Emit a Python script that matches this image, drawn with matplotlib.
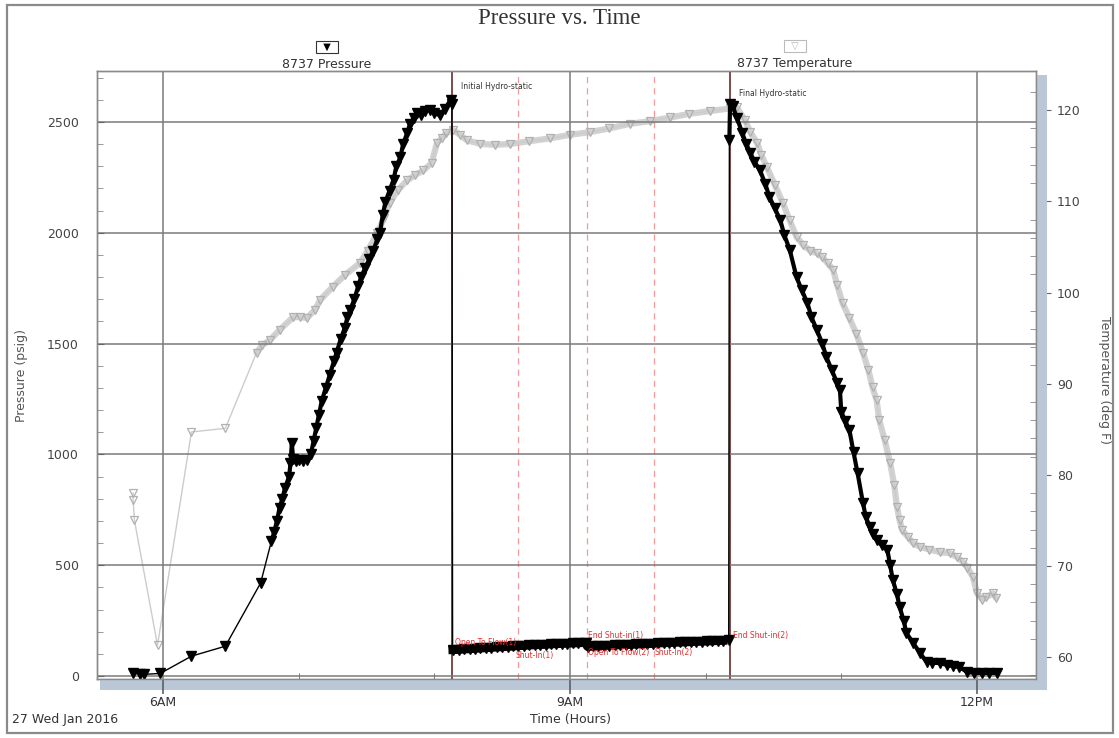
import numpy as np
import matplotlib.pyplot as plt
from matplotlib.patches import Rectangle

# Gauge 8737 - pressure (psig) vs time (decimal hours, 27 Jan 2016)
p_time = [5.78, 5.83, 5.86, 5.98, 6.21, 6.46, 6.72, 6.80, 6.82, 6.84, 6.86, 6.88, 6.90,
          6.93, 6.94, 6.95, 6.96, 6.98, 7.00, 7.03, 7.06, 7.09, 7.11, 7.13, 7.15, 7.17,
          7.20, 7.23, 7.26, 7.28, 7.31, 7.34, 7.36, 7.38, 7.41, 7.44, 7.46, 7.49, 7.52,
          7.55, 7.58, 7.60, 7.62, 7.64, 7.67, 7.70, 7.72, 7.75, 7.77, 7.80, 7.82, 7.85,
          7.87, 7.90, 7.93, 7.97, 8.00, 8.04, 8.08, 8.12, 8.13,
          8.135, 8.18, 8.22, 8.26, 8.30, 8.34, 8.38, 8.42, 8.46, 8.50, 8.54, 8.58, 8.62,
          8.66, 8.70, 8.74, 8.78, 8.82, 8.86, 8.90, 8.94, 8.98, 9.02, 9.06, 9.10, 9.12,
          9.13, 9.17, 9.21, 9.25, 9.29, 9.33, 9.37, 9.41, 9.45, 9.49, 9.53, 9.57, 9.61,
          9.65, 9.69, 9.73, 9.77, 9.81, 9.85, 9.89, 9.93, 9.97, 10.01, 10.05, 10.09,
          10.13, 10.17,
          10.175, 10.18, 10.20, 10.23, 10.27, 10.30, 10.33, 10.36, 10.40, 10.44, 10.47,
          10.51, 10.55, 10.58, 10.62, 10.67, 10.71, 10.75, 10.78, 10.82, 10.86, 10.89,
          10.93, 10.97, 10.99, 11.00, 11.03, 11.06, 11.09, 11.12, 11.16, 11.18, 11.21,
          11.23, 11.26, 11.30, 11.34, 11.36, 11.38, 11.41, 11.43, 11.46, 11.48, 11.53,
          11.58, 11.63, 11.67, 11.73, 11.78, 11.82, 11.87, 11.93, 11.98, 12.04, 12.09,
          12.15]
p_val = [12, 10, 8, 12, 90, 135, 420, 610, 650, 700, 760, 800, 850,
         900, 960, 1050, 980, 970, 975, 970, 975, 1000, 1060, 1120, 1180, 1240,
         1300, 1360, 1420, 1460, 1520, 1570, 1620, 1650, 1700, 1760, 1800, 1840, 1880,
         1920, 1970, 2000, 2080, 2140, 2190, 2240, 2300, 2340, 2400, 2450, 2490, 2520,
         2540, 2530, 2550, 2555, 2540, 2530, 2560, 2600, 2580,
         118, 119, 121, 122, 124, 125, 127, 128, 130, 131, 133, 134, 136,
         137, 139, 140, 141, 142, 144, 145, 146, 147, 148, 149, 150, 151,
         132, 134, 135, 137, 138, 139, 140, 141, 142, 143, 144, 145, 146,
         148, 149, 150, 151, 152, 153, 154, 155, 156, 157, 158, 159,
         160, 162,
         2420, 2580, 2570, 2520, 2450, 2400, 2360, 2320, 2283, 2220, 2162,
         2110, 2058, 1990, 1923, 1800, 1740, 1683, 1620, 1561, 1500, 1440,
         1380, 1322, 1290, 1192, 1150, 1110, 1010, 916, 780, 720, 672,
         640, 614, 590, 569, 500, 433, 370, 311, 250, 194, 149,
         104, 63, 60, 59, 50, 45, 41, 18, 15, 14, 14,
         14]

# Gauge 8737 - temperature (deg F)
t_time = [5.78, 5.78, 5.79, 5.96, 6.21, 6.46, 6.69, 6.73, 6.79, 6.86, 6.96, 7.01, 7.06,
          7.12, 7.16, 7.25, 7.34, 7.45, 7.51, 7.58, 7.63, 7.67, 7.73, 7.80, 7.86, 7.92,
          7.98, 8.02, 8.06, 8.09, 8.14, 8.19, 8.24, 8.34, 8.45, 8.56, 8.70, 8.85, 9.00,
          9.15, 9.29, 9.44, 9.59, 9.74, 9.88, 10.03, 10.18, 10.23, 10.29, 10.33, 10.38,
          10.41, 10.45, 10.51, 10.57, 10.62, 10.67, 10.72, 10.77, 10.82, 10.86, 10.90,
          10.94, 10.97, 11.01, 11.06, 11.11, 11.16, 11.20, 11.23, 11.26, 11.28, 11.32,
          11.36, 11.39, 11.41, 11.43, 11.45, 11.49, 11.53, 11.58, 11.65, 11.73, 11.80,
          11.85, 11.90, 11.93, 11.97, 12.00, 12.04, 12.07, 12.12, 12.14]
t_val = [78.0, 77.2, 75.0, 61.3, 84.7, 85.1, 93.4, 94.2, 94.8, 95.9, 97.3, 97.3, 97.2,
         98.1, 99.2, 100.6, 101.9, 103.2, 104.6, 106.5, 108.2, 109.8, 111.2, 112.3, 112.9, 113.4,
         114.2, 116.4, 117.0, 117.5, 117.8, 117.3, 116.7, 116.3, 116.2, 116.3, 116.6, 116.9, 117.3,
         117.6, 118.0, 118.5, 118.8, 119.2, 119.6, 119.9, 120.2, 120.3, 118.9, 117.6, 116.4,
         115.1, 113.8, 111.8, 109.8, 107.9, 106.1, 105.2, 104.6, 104.3, 103.9, 103.2,
         102.5, 100.8, 98.8, 97.2, 95.5, 93.4, 91.5, 89.6, 88.2, 86.0, 83.8,
         81.3, 78.9, 76.5, 75.0, 73.9, 73.2, 72.5, 72.1, 71.8, 71.5, 71.4,
         71.0, 70.4, 69.8, 68.8, 67.0, 66.3, 66.6, 67.0, 66.5]

# event markers
hydro_times = [8.13, 10.178]
hydro_labels = ['Initial Hydro-static', 'Final Hydro-static']
dash_times = [8.616, 9.125, 9.618]
event_labels = ['Open To Flow(1)', 'Shut-In(1)', 'End Shut-in(1)',
                'Open To Flow(2)', 'Shut-In(2)', 'End Shut-in(2)']
event_x = [8.15, 8.60, 9.13, 9.13, 9.62, 10.20]
event_y = [150, 92, 185, 108, 108, 182]

fig = plt.figure(figsize=(11.19, 7.38), dpi=100)
fig.patch.set_facecolor('white')

# outer frame and 3d-ish shadow band
fig.patches.append(Rectangle((7/1119, 5/738), 1106/1119, 728/738, transform=fig.transFigure,
                             fill=False, edgecolor='#8a8a8a', lw=1.6, zorder=0))
band = '#b9c7d6'
fig.patches.append(Rectangle((100/1119, 1 - 690/738), 947/1119, 11/738, transform=fig.transFigure,
                             facecolor=band, edgecolor='none', zorder=0))
fig.patches.append(Rectangle((1036/1119, 1 - 690/738), 11/1119, 615/738, transform=fig.transFigure,
                             facecolor=band, edgecolor='none', zorder=0))

ax = fig.add_axes([97/1119, 1 - 679/738, 939/1119, 608/738])
ax2 = ax.twinx()
ax.set_zorder(ax2.get_zorder() + 1)
ax.patch.set_visible(False)

# temperature (light grey, hollow triangles); the densely logged part is a thick band
ax2.plot(t_time[6:], t_val[6:], color='#d2d2d2', lw=4.5, solid_capstyle='round')
ax2.plot(t_time, t_val, color='#cccccc', lw=1.0, marker='v', ms=6,
         mfc='none', mec='#b0b0b0', mew=0.9)

# pressure (black, filled triangles); dense parts drawn as a thick line
ax.plot(p_time[7:61], p_val[7:61], color='black', lw=3)
ax.plot(p_time[61:113], p_val[61:113], color='black', lw=6)
ax.plot(p_time[114:], p_val[114:], color='black', lw=3)
ax.plot(p_time, p_val, color='black', lw=1.0, marker='v', ms=6.5, mfc='black', mec='black')

# event lines
for t in hydro_times:
    ax.axvline(t, color='#6b2b2b', lw=1.2, zorder=1)
for t in dash_times:
    ax.axvline(t, color='#f59a9a', lw=0.9, ls=(0, (5, 4)), zorder=1)
ax.text(hydro_times[0] + 0.07, 2660, hydro_labels[0], fontsize=5.5, color='#333333', va='center')
ax.text(hydro_times[1] + 0.07, 2630, hydro_labels[1], fontsize=5.5, color='#333333', va='center')
for lab, x, y in zip(event_labels, event_x, event_y):
    ax.text(x, y, lab, fontsize=5.5, color='#e03030', va='center', zorder=5)

# axes limits and ticks
ax.set_xlim(5.514, 12.435)
ax.set_ylim(-13, 2730)
ax2.set_ylim(57.6, 124.3)

ax.set_xticks([6, 9, 12])
ax.set_xticklabels(['6AM', '9AM', '12PM'])
ax.set_xticks([7, 8, 10, 11], minor=True)
ax.set_yticks([0, 500, 1000, 1500, 2000, 2500])
ax.set_yticks(np.arange(100, 2701, 100), minor=True)
ax2.set_yticks([60, 70, 80, 90, 100, 110, 120])
ax2.set_yticks(np.arange(58, 124, 2), minor=True)

ax.grid(True, which='major', color='#7a7a7a', lw=1.1)
ax.tick_params(axis='x', which='major', direction='out', length=11, width=1.1,
               color='#555555', labelsize=9, labelcolor='#333333', pad=1)
ax.tick_params(axis='x', which='minor', direction='in', length=4, color='#666666')
ax.tick_params(axis='y', which='major', direction='in', length=5, color='#666666',
               labelsize=9, labelcolor='#444444', pad=13)
ax.tick_params(axis='y', which='minor', direction='in', length=4, color='#888888')
ax2.tick_params(axis='y', which='major', direction='out', length=11, color='#666666',
                labelsize=9, labelcolor='#444444', pad=4)
ax2.tick_params(axis='y', which='minor', direction='in', length=4, color='#888888')

for a in (ax, ax2):
    for s in a.spines.values():
        s.set_color('#8a8a8a')
        s.set_linewidth(1.0)

# titles and labels
fig.text(0.5, 1 - 18/738, 'Pressure vs. Time', family='Liberation Serif', fontsize=16.5,
         color='#333333', ha='center', va='center')
fig.text(327/1119, 1 - 47/738, '  \u25bc  ', fontsize=7, color='black', ha='center', va='center',
         bbox=dict(boxstyle='square,pad=0.15', fc='white', ec='#333333', lw=0.8))
fig.text(327/1119, 1 - 64/738, '8737 Pressure', fontsize=9, color='#333333',
         ha='center', va='center')
fig.text(795/1119, 1 - 46/738, '  \u25bd  ', fontsize=7, color='#b5b5b5', ha='center', va='center',
         bbox=dict(boxstyle='square,pad=0.15', fc='white', ec='#bbbbbb', lw=0.8))
fig.text(795/1119, 1 - 64/738, '8737 Temperature', fontsize=9, color='#333333',
         ha='center', va='center')
fig.text(22/1119, 1 - 375/738, 'Pressure (psig)', fontsize=9, color='#555555',
         rotation=90, ha='center', va='center')
fig.text(1105/1119, 1 - 380/738, 'Temperature (deg F)', fontsize=9, color='#555555',
         rotation=270, ha='center', va='center')
fig.text(12/1119, 1 - 719/738, '27 Wed Jan 2016', fontsize=9, color='#333333',
         ha='left', va='center')
fig.text(570/1119, 1 - 719/738, 'Time (Hours)', fontsize=9, color='#333333',
         ha='center', va='center')

fig.savefig('out.png', dpi=100)
